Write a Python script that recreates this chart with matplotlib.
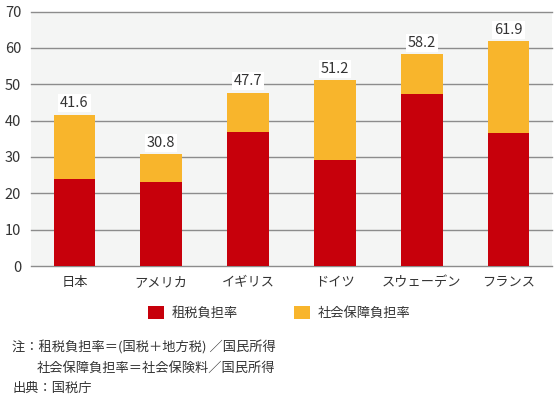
import matplotlib
matplotlib.use('Agg')
import matplotlib.pyplot as plt
from matplotlib.patches import Patch

plt.rcParams['font.family'] = ['Noto Sans CJK JP', 'DejaVu Sans']

countries = ['日本', 'アメリカ', 'イギリス', 'ドイツ', 'スウェーデン', 'フランス']
tax_rate = [24.0, 23.1, 36.9, 29.2, 47.4, 36.7]
social_rate = [17.6, 7.7, 10.8, 22.0, 10.8, 25.2]
total_rate = [41.6, 30.8, 47.7, 51.2, 58.2, 61.9]

red = '#c7000b'
orange = '#f8b52c'
textcol = '#333333'
gridcol = '#8c8c8c'

fig = plt.figure(figsize=(5.57, 4.00), dpi=100)
ax = fig.add_axes([0.0557, 0.335, 0.9353, 0.636])
ax.set_facecolor('#f4f5f4')

x = list(range(len(countries)))
ax.bar(x, tax_rate, width=0.48, color=red, zorder=3)
ax.bar(x, social_rate, width=0.48, bottom=tax_rate, color=orange, zorder=3)

for yv in range(0, 80, 10):
	ax.axhline(yv, color=gridcol, lw=1.0, zorder=1, clip_on=False)

for i in x:
	ax.text(i, total_rate[i] + 1.2, '%.1f' % total_rate[i], ha='center', va='bottom',
		fontsize=10.5, color=textcol, zorder=4,
		bbox=dict(facecolor='white', edgecolor='none', pad=1.5))

ax.set_xlim(-0.5, 5.5)
ax.set_ylim(0, 70)
ax.set_yticks(range(0, 80, 10))
ax.set_xticks(x)
ax.set_xticklabels(countries)
ax.tick_params(axis='y', length=0, labelsize=10.5, colors=textcol, pad=7)
ax.tick_params(axis='x', length=0, labelsize=9.5, colors=textcol, pad=7)
for s in ax.spines.values():
	s.set_visible(False)

handles = [Patch(facecolor=red, label='租税負担率'), Patch(facecolor=orange, label='社会保障負担率')]
fig.legend(handles=handles, loc='center left', bbox_to_anchor=(0.245, 0.218), ncol=2,
	frameon=False, fontsize=9.5, handlelength=1.2, handleheight=1.2, handletextpad=0.55,
	columnspacing=4.3, labelcolor=textcol)

fig.text(0.022, 0.13, '注：租税負担率＝(国税＋地方税) ／国民所得', fontsize=9.5, color=textcol, va='center')
fig.text(0.066, 0.078, '社会保障負担率＝社会保険料／国民所得', fontsize=9.5, color=textcol, va='center')
fig.text(0.022, 0.028, '出典：国税庁', fontsize=9.5, color=textcol, va='center')

fig.savefig('out.png', dpi=100)
